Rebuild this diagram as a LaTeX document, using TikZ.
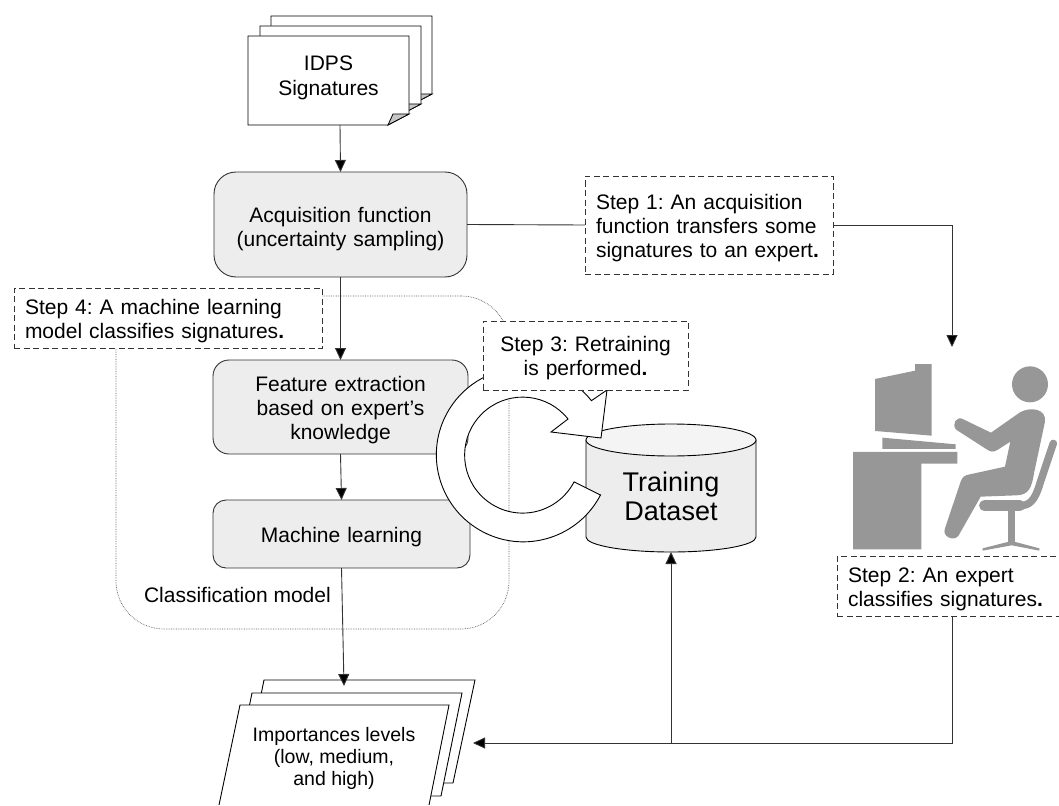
\documentclass[tikz,border=0pt]{standalone}
\usepackage{fontspec}
\setmainfont{Liberation Sans}
\usetikzlibrary{arrows.meta,calc}
\definecolor{boxgray}{HTML}{EDEDED}
\definecolor{figgray}{HTML}{979797}
\definecolor{linegray}{HTML}{333333}
\newcommand{\bdot}{{\bfseries .}}
\tikzset{
  base/.style={inner sep=0pt,outer sep=0pt,align=center,text=black,font=\fontsize{21}{24}\selectfont\frenchspacing},
  lowered/.style={execute at begin node={\rule{0pt}{20.5pt}}},
  flowbox/.style={base,lowered,draw=linegray,line width=0.9pt,fill=boxgray,rounded corners=#1,text width=230pt},
  stepbox/.style={base,lowered,draw=linegray,line width=0.9pt,fill=white,dash pattern=on 6pt off 3.5pt,inner xsep=11pt,align=left},
  sheet/.style={draw=black,line width=0.9pt,fill=white},
  ghost/.style={inner sep=0pt,outer sep=0pt},
  link/.style={draw=linegray,line width=0.9pt},
  flow/.style={link,-{Triangle[width=11pt,length=12pt,fill=black]}},
}
\begin{document}
\begin{tikzpicture}[x=1pt,y=-1pt]
\useasboundingbox (0,0) rectangle (1059,805);
% classification-model container
\node[ghost,draw=black!65,line width=0.7pt,densely dotted,rounded corners=48pt,minimum width=393pt,minimum height=333pt] (model) at (312.5,462.5) {};
\node[base,anchor=west] (modellabel) at (144,595) {Classification model};
% IDPS signatures stack
\foreach \dx/\dy in {23/-20,12/-10,0/0}{
  \begin{scope}[shift={(\dx,\dy)}]
  \draw[sheet] (248,36) -- (409,36) -- (409,114) -- (388,125) -- (248,125) -- cycle;
  \draw[line width=0.8pt,draw=black,fill=gray!45] (388,125) -- (393,114) -- (409,114) -- cycle;
  \end{scope}
}
\node[ghost,minimum width=184pt,minimum height=109pt] (docs) at (340,70.5) {};
\node[base,font=\fontsize{21}{25}\selectfont] (docslabel) at (328.5,77.5) {IDPS\\Signatures};
% flow boxes
\node[flowbox=22pt,minimum width=253pt,minimum height=105pt] (acq) at (340.5,224.5) {\rule{0pt}{23.5pt}Acquisition function\\(uncertainty sampling)};
\node[flowbox=16pt,minimum width=255pt,minimum height=94pt] (feat) at (340.5,407) {Feature extraction\\based on expert’s\\knowledge};
\node[flowbox=13pt,minimum width=257pt,minimum height=68pt] (ml) at (341.5,534) {Machine learning};
% importance levels stack
\draw[sheet] (264,680) -- (475,680) -- (453,783) -- (443,783) -- (243,783) -- cycle;
\draw[sheet] (252,693) -- (462,693) -- (441,796) -- (431,796) -- (231,796) -- cycle;
\fill[white] (240,705) -- (449,705) -- (429,805) -- (219,805) -- cycle;
\draw[line width=0.9pt] (219,805) -- (240,705) -- (449,705) -- (429,805);
\node[ghost,minimum width=258pt,minimum height=114pt] (imp) at (344,743) {};
\node[base,font=\fontsize{19.5}{22}\selectfont] (implabel) at (334,758) {Importances levels\\(low, medium,\\ and high)};
% training dataset cylinder
\draw[draw=black,line width=0.9pt,fill=boxgray] (586,440) -- (586,537) arc[start angle=180,end angle=0,x radius=85,y radius=15] -- (756,440) -- cycle;
\draw[draw=black,line width=0.9pt,fill=boxgray!60!white] (671,440) ellipse[x radius=85,y radius=16];
\node[ghost,minimum width=170pt,minimum height=128pt] (train) at (671,488) {};
\node[base,font=\fontsize{27}{29}\selectfont] (trainlabel) at (671,496) {Training\\Dataset};
% expert figure
\node[ghost,minimum width=212pt,minimum height=203pt] (person) at (952,448.5) {};
\begin{scope}[shift={(830,340)},x=0.3333pt,y=-0.3333pt,fill=figgray,draw=figgray]
  \fill (135,117) -- (255,92) -- (255,72) -- (305,72) -- (305,287) -- (135,273) -- cycle;
  \fill (157,293) -- (377,313) -- (377,327) -- (157,327) -- cycle;
  \fill (69,336) -- (382,336) -- (382,371) -- (274,371) -- (274,628) -- (69,628) -- cycle;
  \fill (600,133) circle[radius=18pt];
  \fill (570,217) .. controls (600,200) and (650,205) .. (645,245)
     -- (612,400) .. controls (605,445) and (595,465) .. (560,466)
     -- (452,470) -- (385,588) .. controls (370,605) and (335,590) .. (345,565)
     -- (392,425) .. controls (397,410) and (405,405) .. (420,403)
     -- (525,380) -- (541,305) -- (502,330) .. controls (490,338) and (480,335) .. (470,328)
     -- (380,270) .. controls (362,255) and (380,225) .. (400,238)
     -- (483,278) -- cycle;
  \draw[line width=7.5pt,line cap=round,line join=round] (670,310) -- (630,430) .. controls (615,480) and (600,497) .. (570,497);
  \draw[line width=10.5pt,line cap=round] (570,497) -- (463,497);
  \draw[line width=6.5pt] (545,505) -- (545,610);
  \fill (458,625) -- (545,603) -- (628,625) -- (628,632) -- (545,616) -- (458,632) -- cycle;
\end{scope}
% circular arrow
\path[draw=black,line width=0.9pt,fill=white]
  (600.5,495) arc[start angle=-332.5,end angle=-38.5,radius=87] -- (607,390) -- (601,438) -- (551,432) -- (568,419)
  arc[start angle=-38.5,end angle=-332.5,radius=58] -- cycle;
% step boxes
\node[stepbox,minimum width=248pt,minimum height=98pt,text width=226pt] (step1) at (709,225) {Step 1: An acquisition\\function transfers some\\signatures to an expert\bdot};
\node[stepbox,minimum width=222pt,minimum height=60pt,text width=200pt] (step2) at (948,586) {Step 2: An expert\\classifies signatures\bdot};
\node[stepbox,align=center,minimum width=205pt,minimum height=69pt,text width=183pt] (step3) at (585.5,355.5) {Step 3: Retraining\\is performed\bdot};
\node[stepbox,minimum width=308pt,minimum height=60pt,text width=286pt] (step4) at (168,318) {Step 4: A machine learning\\model classifies signatures\bdot};
% connectors
\draw[flow] (docs.south) -- (acq.north);
\draw[flow] (acq.south) -- (feat.north);
\draw[flow] (feat.south) -- (ml.north);
\draw[flow] (ml.south) -- (imp.north);
\draw[link] (acq.east) -- (step1.west);
\draw[flow] (step1.east) -| (person.north);
\draw[flow] (step2.south -| person.south) |- (imp.east);
\draw[flow] (imp.east -| train.south) -- (train.south);
\end{tikzpicture}
\end{document}
